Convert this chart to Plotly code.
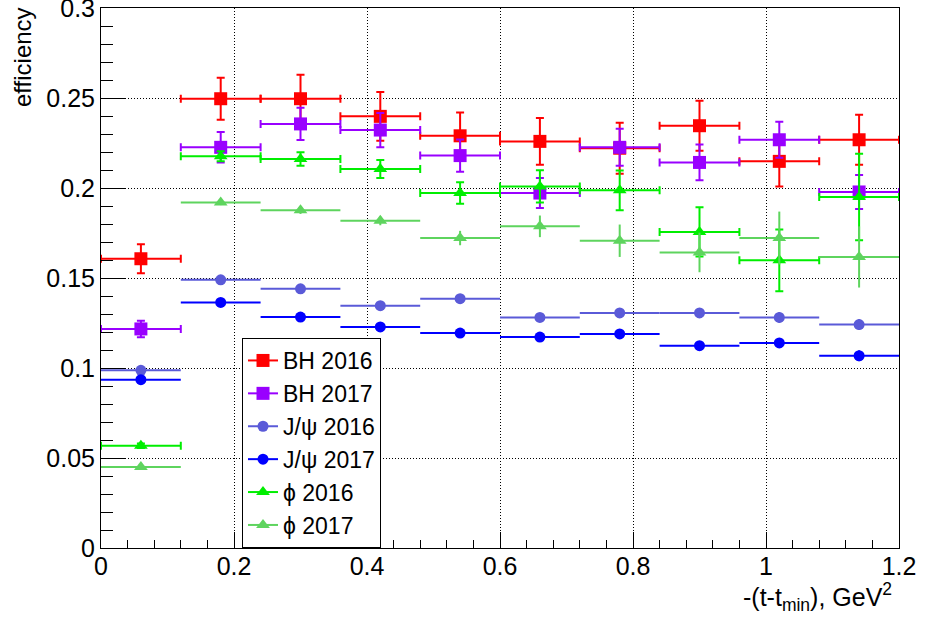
import plotly.graph_objects as go

# bin centres and half-widths of -(t-tmin) bins
t_centers = [0.06, 0.18, 0.30, 0.42, 0.54, 0.66, 0.78, 0.90, 1.02, 1.14]
t_halfwidth = [0.06] * 10

bh2016 = [0.1607, 0.2496, 0.2496, 0.2398, 0.2290, 0.2259, 0.2221, 0.2346, 0.2148, 0.2268]
bh2016_err = [0.0080, 0.0117, 0.0133, 0.0136, 0.0130, 0.0130, 0.0142, 0.0139, 0.0139, 0.0139]

bh2017 = [0.1217, 0.2226, 0.2356, 0.2322, 0.2180, 0.1972, 0.2226, 0.2142, 0.2268, 0.1978]
bh2017_err = [0.0046, 0.0085, 0.0090, 0.0095, 0.0090, 0.0083, 0.0103, 0.0099, 0.0100, 0.0094]

jpsi2016 = [0.0987, 0.1490, 0.1440, 0.1346, 0.1385, 0.1281, 0.1306, 0.1306, 0.1281, 0.1241]
jpsi2016_err = [0.0012, 0.0015, 0.0015, 0.0020, 0.0020, 0.0020, 0.0025, 0.0025, 0.0030, 0.0030]

jpsi2017 = [0.0935, 0.1364, 0.1283, 0.1228, 0.1194, 0.1172, 0.1189, 0.1124, 0.1139, 0.1068]
jpsi2017_err = [0.0010, 0.0015, 0.0015, 0.0015, 0.0020, 0.0020, 0.0020, 0.0025, 0.0025, 0.0030]

phi2016 = [0.0568, 0.2176, 0.2161, 0.2106, 0.1972, 0.2009, 0.1987, 0.1756, 0.1598, 0.1950]
phi2016_err = [0.0012, 0.0028, 0.0037, 0.0050, 0.0060, 0.0089, 0.0110, 0.0137, 0.0172, 0.0240]

phi2017 = [0.0450, 0.1920, 0.1876, 0.1818, 0.1722, 0.1787, 0.1707, 0.1642, 0.1722, 0.1617]
phi2017_err = [0.0010, 0.0015, 0.0020, 0.0025, 0.0040, 0.0060, 0.0090, 0.0110, 0.0147, 0.0170]

y_ticks = [0, 0.05, 0.1, 0.15, 0.2, 0.25, 0.3]
y_ticklabels = ["0", "0.05", "0.1", "0.15", "0.2", "0.25", "0.3"]
x_ticks = [0, 0.2, 0.4, 0.6, 0.8, 1.0, 1.2]
x_ticklabels = ["0", "0.2", "0.4", "0.6", "0.8", "1", "1.2"]

series = [
    ("BH 2016", bh2016, bh2016_err, "#ff0000", "square", 13, 4),
    ("BH 2017", bh2017, bh2017_err, "#9900ff", "square", 13, 4),
    ("J/ψ 2016", jpsi2016, jpsi2016_err, "#5a5ad8", "circle", 11, 0),
    ("J/ψ 2017", jpsi2017, jpsi2017_err, "#0000ff", "circle", 11, 0),
    ("ϕ 2016", phi2016, phi2016_err, "#00ee00", "triangle-up", 12, 4),
    ("ϕ 2017", phi2017, phi2017_err, "#5ed45e", "triangle-up", 12, 0),
]

FONT = "Liberation Sans, Arial, Helvetica, sans-serif"

fig = go.Figure()
for name, vals, errs, col, sym, size, cap in series:
    fig.add_trace(go.Scatter(
        x=t_centers, y=vals, mode="markers", name=name, showlegend=False,
        marker=dict(symbol=sym, size=size, color=col, line=dict(width=0)),
        error_x=dict(type="data", array=t_halfwidth, color=col, thickness=2, width=cap),
        error_y=dict(type="data", array=errs, color=col, thickness=2, width=cap),
    ))

for i, (name, vals, errs, col, sym, size, cap) in enumerate(series):
    fig.add_trace(go.Scatter(
        x=[None], y=[None], mode="lines+markers", name=name, legendgroup=str(i),
        marker=dict(symbol=sym, size=size, color=col),
        line=dict(color=col, width=2),
    ))

fig.update_layout(
    width=934, height=619,
    margin=dict(l=101, r=35, t=8, b=71),
    paper_bgcolor="white", plot_bgcolor="white",
    font=dict(family=FONT, color="black", size=24),
    legend=dict(
        x=0.1767, xanchor="left", y=0, yanchor="bottom",
        bgcolor="white", bordercolor="black", borderwidth=1,
        font=dict(family=FONT, size=23, color="black"),
        traceorder="grouped", tracegroupgap=0, itemwidth=30,
    ),
    showlegend=True,
)

fig.update_xaxes(
    range=[0, 1.2], tickmode="array", tickvals=x_ticks, ticktext=x_ticklabels,
    showline=True, linecolor="black", linewidth=1, mirror=True,
    ticks="inside", ticklen=16, tickcolor="black", tickwidth=1,
    showgrid=True, gridcolor="black", gridwidth=1, griddash="1px,2px",
    zeroline=False, ticklabeloverflow="allow", automargin=False,
    ticklabelstandoff=-4,
    tickfont=dict(family=FONT, size=25, color="black"),
    minor=dict(dtick=0.04, tick0=0, ticks="inside", ticklen=8, tickcolor="black", showgrid=False),
)
fig.update_yaxes(
    range=[0, 0.3], tickmode="array", tickvals=y_ticks, ticktext=y_ticklabels,
    showline=True, linecolor="black", linewidth=1, mirror=True,
    ticks="inside", ticklen=24, tickcolor="black", tickwidth=1,
    showgrid=True, gridcolor="black", gridwidth=1, griddash="1px,2px",
    zeroline=False, ticklabeloverflow="allow", automargin=False,
    tickfont=dict(family=FONT, size=25, color="black"),
    minor=dict(dtick=0.01, tick0=0, ticks="inside", ticklen=12, tickcolor="black", showgrid=False),
)

fig.add_annotation(
    text="-(t-t<sub>min</sub>), GeV<sup>2</sup>", xref="paper", yref="paper",
    x=1, y=0, xanchor="right", yanchor="top", xshift=-5, yshift=-29,
    showarrow=False, font=dict(family=FONT, size=25, color="black"),
)
fig.add_annotation(
    text="efficiency", xref="paper", yref="paper",
    x=0, y=1, xanchor="center", yanchor="top", xshift=-79, yshift=3,
    textangle=-90, showarrow=False, font=dict(family=FONT, size=24, color="black"),
)

fig.write_html("out.html")
